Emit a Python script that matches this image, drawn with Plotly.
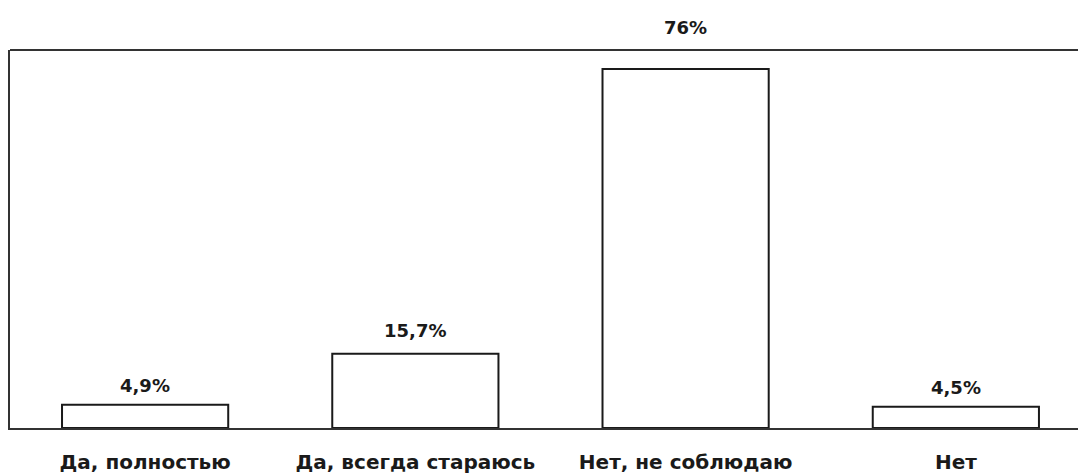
import plotly.graph_objects as go

categories = ["Да, полностью", "Да, всегда стараюсь", "Нет, не соблюдаю", "Нет"]
values = [4.9, 15.7, 76.0, 4.5]
value_labels = ["4,9%", "15,7%", "76%", "4,5%"]

label_shift = [7, 11, 29, 7]

fig = go.Figure()
fig.add_trace(go.Bar(
    x=list(range(len(categories))),
    y=values,
    width=0.615,
    marker=dict(color="white", line=dict(color="#1a1a1a", width=2)),
    hoverinfo="skip",
))

for i, (v, t) in enumerate(zip(values, value_labels)):
    fig.add_annotation(x=i, y=v, text=t, showarrow=False, yanchor="bottom",
                       yshift=label_shift[i],
                       font=dict(family="DejaVu Sans", size=18, color="#1a1a1a", weight="bold"))

fig.add_shape(type="line", xref="paper", yref="paper", x0=0, x1=1, y0=1, y1=1,
              line=dict(color="#333333", width=2))

fig.update_layout(
    width=1078, height=475,
    margin=dict(l=10, r=0, t=50, b=47),
    paper_bgcolor="white", plot_bgcolor="white",
    showlegend=False,
    xaxis=dict(
        range=[-0.5, 3.452],
        tickmode="array",
        tickvals=list(range(len(categories))),
        ticktext=categories,
        showgrid=False, zeroline=False,
        showline=True, linecolor="#333333", linewidth=2,
        ticks="", ticklabelstandoff=15, automargin=False,
        tickfont=dict(family="DejaVu Sans", size=20, color="#1a1a1a", weight="bold"),
    ),
    yaxis=dict(
        range=[0, 80],
        showgrid=False, zeroline=False,
        showticklabels=False, automargin=False,
        showline=True, linecolor="#333333", linewidth=2,
    ),
)

fig.write_html("out.html", config={"displayModeBar": False},
               post_script="document.body.style.margin='0';document.body.style.overflow='hidden';")
